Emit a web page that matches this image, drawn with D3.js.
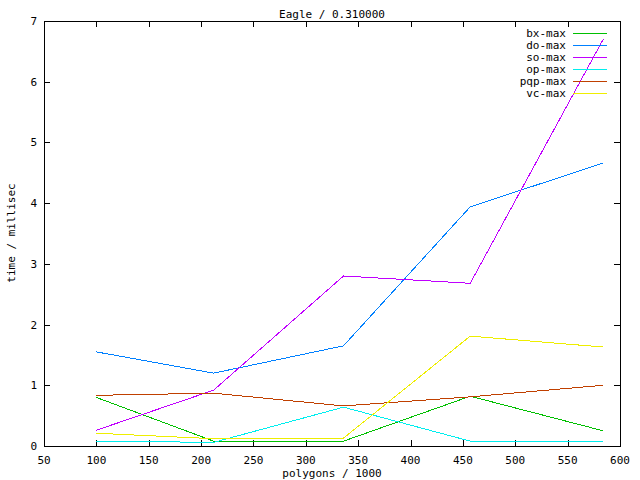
<!DOCTYPE html>
<html><head><meta charset="utf-8">
<script src="https://cdn.jsdelivr.net/npm/d3@7"></script>
<style>body{margin:0;background:#fff}svg{display:block}text{font-family:"DejaVu Sans Mono","Liberation Mono",monospace;font-size:11px;fill:#000}</style>
</head><body><svg id="c" width="640" height="480"></svg>
<script>
const polygons = [100, 212, 336, 457, 584];
const seriesNames = ["bx-max", "do-max", "so-max", "op-max", "pqp-max", "vc-max"];
const bxMax  = [0.80, 0.08, 0.08, 0.82, 0.25];
const doMax  = [1.55, 1.20, 1.65, 3.94, 4.66];
const soMax  = [0.26, 0.92, 2.80, 2.68, 6.70];
const opMax  = [0.08, 0.06, 0.64, 0.08, 0.08];
const pqpMax = [0.835, 0.87, 0.66, 0.81, 1.00];
const vcMax  = [0.21, 0.12, 0.13, 1.81, 1.63];
const colors = ["#00c000", "#0080ff", "#c000ff", "#00eeee", "#c04000", "#eeee00"];
const xTicks = [50,100,150,200,250,300,350,400,450,500,550,600];
const yTicks = [0,1,2,3,4,5,6,7];
const title = "Eagle / 0.310000";
const xLabel = "polygons / 1000";
const yLabel = "time / millisec";

const allSeries = [bxMax, doMax, soMax, opMax, pqpMax, vcMax];
const svg = d3.select("#c");
const L = 44, R = 620, T = 21, B = 446;
const x = d3.scaleLinear().domain([50, 600]).range([L, R]);
const y = d3.scaleLinear().domain([0, 7]).range([B, T]);

// ticks (inward, mirrored)
const tk = 6;
const g = svg.append("g").attr("shape-rendering","crispEdges");
xTicks.forEach(v => {
  const px = Math.round(x(v)) + 0.5;
  g.append("line").attr("x1",px).attr("x2",px).attr("y1",B).attr("y2",B-tk).attr("stroke","#000");
  g.append("line").attr("x1",px).attr("x2",px).attr("y1",T).attr("y2",T+tk).attr("stroke","#000");
  svg.append("text").attr("x",x(v)).attr("y",B+18).attr("text-anchor","middle").text(v);
});
yTicks.forEach(v => {
  const py = Math.round(y(v)) + 0.5;
  g.append("line").attr("x1",L).attr("x2",L+tk).attr("y1",py).attr("y2",py).attr("stroke","#000");
  g.append("line").attr("x1",R).attr("x2",R-tk).attr("y1",py).attr("y2",py).attr("stroke","#000");
  svg.append("text").attr("x",37).attr("y",y(v)+4).attr("text-anchor","end").text(v);
});

// lines
const line = d3.line().x((d,i) => x(polygons[i])).y(d => y(d));
allSeries.forEach((s, k) => {
  svg.append("path").datum(s).attr("d", line).attr("fill","none")
    .attr("stroke", colors[k]).attr("stroke-width",1).attr("shape-rendering","crispEdges");
});

// border
g.append("rect").attr("x",L+0.5).attr("y",T+0.5).attr("width",R-L).attr("height",B-T)
  .attr("fill","none").attr("stroke","#000");

// legend
seriesNames.forEach((n, k) => {
  const ly = 33 + k * 11.9;
  svg.append("text").attr("x",566).attr("y",ly+4).attr("text-anchor","end").text(n);
  svg.append("line").attr("x1",573).attr("x2",607).attr("y1",Math.round(ly)+0.5).attr("y2",Math.round(ly)+0.5)
    .attr("stroke",colors[k]).attr("shape-rendering","crispEdges");
});

// titles
svg.append("text").attr("x",332).attr("y",18).attr("text-anchor","middle").text(title);
svg.append("text").attr("x",332).attr("y",477).attr("text-anchor","middle").text(xLabel);
svg.append("text").attr("transform","translate(15,233) rotate(-90)").attr("text-anchor","middle").text(yLabel);
</script></body></html>
